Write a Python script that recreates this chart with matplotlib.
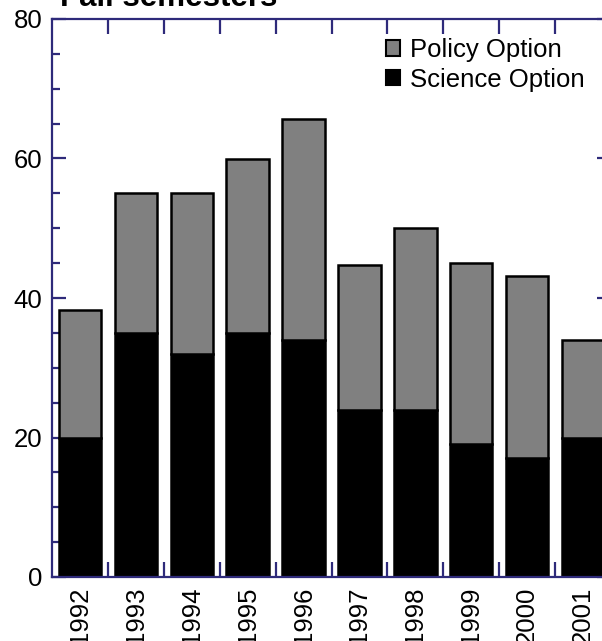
import matplotlib
matplotlib.use("Agg")
import matplotlib.pyplot as plt
from matplotlib.patches import Patch
from matplotlib.ticker import MultipleLocator, FixedLocator

years = ["1992", "1993", "1994", "1995", "1996", "1997", "1998", "1999", "2000", "2001"]
science = [20, 35, 32, 35, 34, 24, 24, 19, 17, 20]
policy = [18.3, 20, 23, 25, 31.7, 20.7, 26, 26, 26.2, 14]

W, H = 602, 641
navy = "#2e2a7a"
plt.rcParams['font.family'] = ['Liberation Sans', 'DejaVu Sans']

fig = plt.figure(figsize=(W / 100, H / 100), dpi=100)
ax = fig.add_axes([52 / W, 1 - 577 / H, (611 - 52) / W, (577 - 19) / H])

x = list(range(len(years)))
bw = 0.76
ax.bar(x, science, width=bw, color="black", edgecolor="black", linewidth=1.8, zorder=2)
ax.bar(x, policy, bottom=science, width=bw, color="#808080", edgecolor="black",
       linewidth=1.8, zorder=2)

ax.set_xlim(-0.5, len(years) - 0.5)
ax.set_ylim(0, 80)

for s in ax.spines.values():
    s.set_color(navy)
    s.set_linewidth(1.6)

ax.set_xticks(x)
ax.set_xticklabels(years, rotation=90, fontsize=18.5)
ax.xaxis.set_minor_locator(FixedLocator([i + 0.5 for i in range(len(years) - 1)]))
ax.tick_params(axis='x', which='major', length=0, pad=7)
ax.tick_params(axis='x', which='minor', direction='in', length=11, width=1.6,
               color=navy, top=True, bottom=True)

ax.yaxis.set_major_locator(MultipleLocator(20))
ax.yaxis.set_minor_locator(MultipleLocator(5))
ax.tick_params(axis='y', which='major', direction='in', length=10, width=1.6,
               color=navy, left=True, right=True, labelsize=18.5, pad=7)
ax.tick_params(axis='y', which='minor', direction='in', length=6, width=1.6,
               color=navy, left=True, right=True)

fig.text(60 / W, 1 - 6 / H, "Fall semesters", fontsize=22.5, fontweight='bold',
         ha='left', va='baseline')

handles = [Patch(facecolor="#808080", edgecolor="black", linewidth=1.5, label="Policy Option"),
           Patch(facecolor="black", edgecolor="black", linewidth=1.5, label="Science Option")]
fig.legend(handles=handles, loc='upper left', bbox_to_anchor=(386 / W, 1 - 38 / H),
           frameon=False, fontsize=18.5, borderpad=0, borderaxespad=0,
           handlelength=0.55, handleheight=0.55, handletextpad=0.38, labelspacing=0.22)

fig.savefig("out.png", dpi=100)
